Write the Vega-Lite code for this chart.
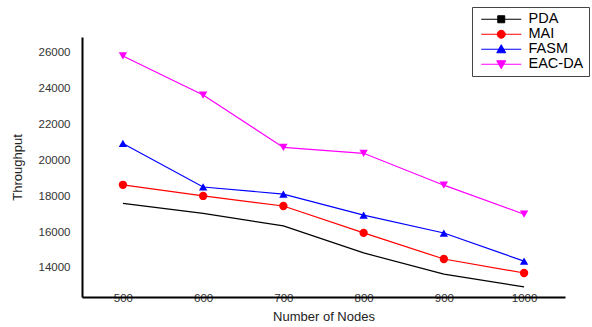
{
  "$schema": "https://vega.github.io/schema/vega-lite/v6.json",
  "width": 483,
  "height": 260,
  "autosize": "none",
  "padding": {"left": 82, "top": 37, "right": 27, "bottom": 30},
  "background": "white",
  "config": {
    "view": {"stroke": null},
    "font": "Liberation Sans",
    "axis": {"grid": false, "ticks": false, "domainColor": "#000", "domainWidth": 2, "labelColor": "#333", "titleColor": "#222", "titleFontWeight": "normal", "labelFont": "Liberation Sans", "titleFont": "Liberation Sans", "format": "d"}
  },
  "data": {
    "values": [
      {"nodes": 500, "series": "PDA", "throughput": 17600},
      {"nodes": 600, "series": "PDA", "throughput": 17050},
      {"nodes": 700, "series": "PDA", "throughput": 16350},
      {"nodes": 800, "series": "PDA", "throughput": 14840},
      {"nodes": 900, "series": "PDA", "throughput": 13660},
      {"nodes": 1000, "series": "PDA", "throughput": 12940},
      {"nodes": 500, "series": "MAI", "throughput": 18640},
      {"nodes": 600, "series": "MAI", "throughput": 18020},
      {"nodes": 700, "series": "MAI", "throughput": 17460},
      {"nodes": 800, "series": "MAI", "throughput": 15960},
      {"nodes": 900, "series": "MAI", "throughput": 14500},
      {"nodes": 1000, "series": "MAI", "throughput": 13720},
      {"nodes": 500, "series": "FASM", "throughput": 20950},
      {"nodes": 600, "series": "FASM", "throughput": 18520},
      {"nodes": 700, "series": "FASM", "throughput": 18120},
      {"nodes": 800, "series": "FASM", "throughput": 16950},
      {"nodes": 900, "series": "FASM", "throughput": 15950},
      {"nodes": 1000, "series": "FASM", "throughput": 14380},
      {"nodes": 500, "series": "EAC-DA", "throughput": 25830},
      {"nodes": 600, "series": "EAC-DA", "throughput": 23650},
      {"nodes": 700, "series": "EAC-DA", "throughput": 20730},
      {"nodes": 800, "series": "EAC-DA", "throughput": 20400},
      {"nodes": 900, "series": "EAC-DA", "throughput": 18620},
      {"nodes": 1000, "series": "EAC-DA", "throughput": 17000}
    ]
  },
  "encoding": {
    "x": {
      "field": "nodes", "type": "quantitative",
      "scale": {"domain": [449, 1051], "nice": false, "zero": false},
      "axis": {"values": [500, 600, 700, 800, 900, 1000], "title": "Number of Nodes", "labelFontSize": 11.5, "labelPadding": -5, "titleFontSize": 13, "titlePadding": 7, "labelFlush": false}
    },
    "y": {
      "field": "throughput", "type": "quantitative",
      "scale": {"domain": [12380, 26890], "nice": false, "zero": false},
      "axis": {"values": [14000, 16000, 18000, 20000, 22000, 24000, 26000], "title": "Throughput", "labelFontSize": 11.5, "labelPadding": 12, "titleFontSize": 13, "titlePadding": 14}
    },
    "color": {
      "field": "series", "type": "nominal",
      "scale": {"domain": ["PDA", "MAI", "FASM", "EAC-DA"], "range": ["#000000", "#ff0000", "#0000ff", "#ff00ff"]},
      "legend": {
        "title": null, "orient": "none", "legendX": 390, "legendY": -30,
        "direction": "vertical",
        "labelFontSize": 14.5, "labelColor": "#000", "labelFont": "Liberation Sans",
        "symbolSize": 100, "labelOffset": 37, "rowPadding": 0,
        "padding": 5, "strokeColor": "#444", "fillColor": "white",
        "symbolStrokeWidth": 1,
        "encode": {
          "symbols": {
            "update": {
              "shape": {"signal": "datum.value === 'PDA' ? 'M-0.6,0H7.4M2.7,-0.7H4.1V0.7H2.7Z' : datum.value === 'MAI' ? 'M-0.6,0H7.4M2.6,0A0.8,0.8,0,1,0,4.2,0A0.8,0.8,0,1,0,2.6,0Z' : datum.value === 'FASM' ? 'M-0.6,0H7.4M3.4,-0.9L4.3,0.7H2.5Z' : 'M-0.6,0H7.4M3.4,0.9L4.3,-0.7H2.5Z'"},
              "fill": {"signal": "datum.value === 'PDA' ? '#000' : datum.value === 'MAI' ? '#f00' : datum.value === 'FASM' ? '#00f' : '#f0f'"},
              "stroke": {"signal": "datum.value === 'PDA' ? '#000' : datum.value === 'MAI' ? '#f00' : datum.value === 'FASM' ? '#00f' : '#f0f'"},
              "opacity": {"value": 1},
              "fillOpacity": {"value": 1},
              "strokeOpacity": {"value": 1}
            }
          }
        }
      }
    }
  },
  "layer": [
    {
      "mark": {"type": "line", "strokeWidth": 1.2},
      "encoding": {"detail": {"field": "series"}}
    },
    {
      "transform": [{"filter": "datum.series === 'MAI'"}],
      "mark": {"type": "point", "filled": true, "opacity": 1, "size": 70, "shape": "circle"}
    },
    {
      "transform": [{"filter": "datum.series === 'FASM'"}],
      "mark": {"type": "point", "filled": true, "opacity": 1, "size": 70, "shape": "triangle-up"}
    },
    {
      "transform": [{"filter": "datum.series === 'EAC-DA'"}],
      "mark": {"type": "point", "filled": true, "opacity": 1, "size": 70, "shape": "triangle-down"}
    }
  ]
}
